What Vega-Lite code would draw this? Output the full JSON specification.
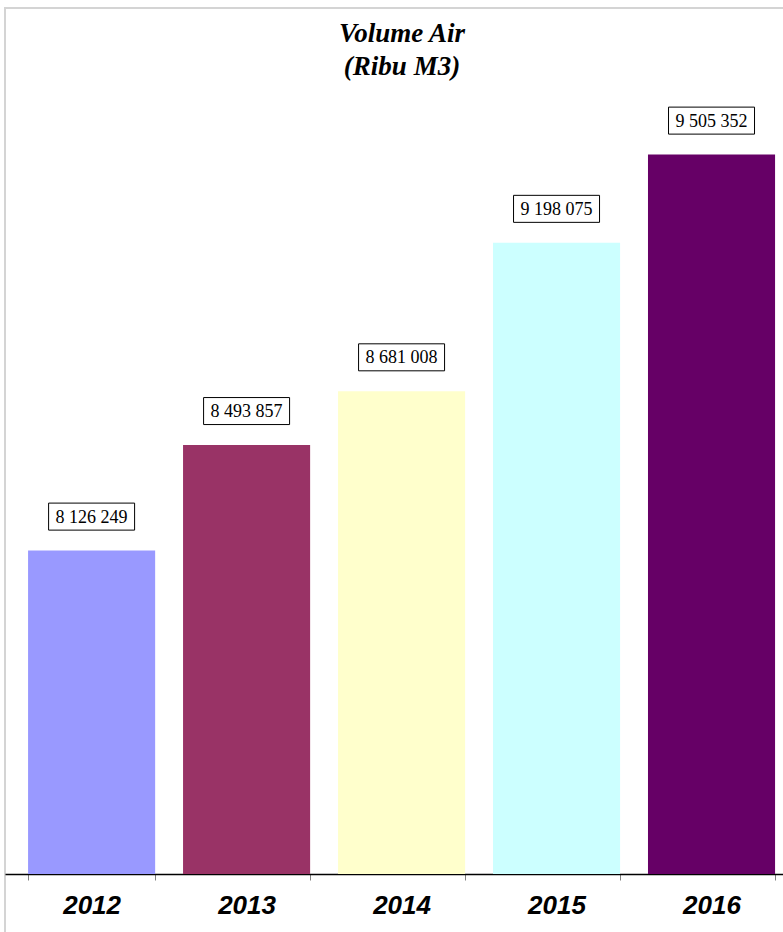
{
  "$schema": "https://vega.github.io/schema/vega-lite/v6.json",
  "autosize": "none",
  "padding": {"left": 5, "top": 8, "right": 0, "bottom": 0},
  "width": 778,
  "height": 924,
  "background": "white",
  "config": {
    "view": {"stroke": "#d4d4d4", "strokeWidth": 2, "strokeDash": [778, 1702, 924]},
    "locale": {"number": {"decimal": ",", "thousands": " ", "grouping": [3], "currency": ["", ""]}},
    "title": {"font": "Liberation Serif", "fontSize": 27, "fontWeight": "bold", "fontStyle": "italic", "color": "black", "lineHeight": 33}
  },
  "title": {"text": ["Volume Air", "(Ribu M3)"], "anchor": "middle", "offset": -73, "dx": 8},
  "data": {"values": [
    {"year": "2012", "value": 8126249},
    {"year": "2013", "value": 8493857},
    {"year": "2014", "value": 8681008},
    {"year": "2015", "value": 9198075},
    {"year": "2016", "value": 9505352}
  ]},
  "encoding": {
    "x": {"field": "year", "type": "nominal", "sort": null,
      "scale": {"paddingInner": 0.18, "paddingOuter": 0.1, "align": 0.744},
      "axis": {"title": null, "labelAngle": 0, "offset": -58, "tickBand": "extent",
        "domainColor": "black", "domainWidth": 1.5, "tickColor": "#808080", "tickSize": 6,
        "labelFont": "Liberation Sans", "labelFontSize": 26, "labelFontWeight": "bold", "labelFontStyle": "italic",
        "labelColor": "black", "labelPadding": 12}},
    "y": {"field": "value", "type": "quantitative", "scale": {"domain": [6798008, 10015950], "nice": false, "zero": false}, "axis": null}
  },
  "layer": [
    {
      "mark": {"type": "bar", "clip": false},
      "encoding": {
        "y2": {"datum": 7000000},
        "color": {"field": "year", "type": "nominal", "legend": null,
          "scale": {"domain": ["2012", "2013", "2014", "2015", "2016"], "range": ["#9999FF", "#993366", "#FFFFCC", "#CCFFFF", "#660066"]}}
      }
    },
    {
      "mark": {"type": "point", "shape": "M-1,-0.314H1V0.314H-1Z", "size": 7396, "filled": true, "fill": "white", "stroke": "black", "strokeWidth": 1, "opacity": 1, "yOffset": -34}
    },
    {
      "mark": {"type": "text", "font": "Liberation Serif", "fontSize": 18, "color": "black", "align": "center", "baseline": "middle", "yOffset": -33},
      "encoding": {"text": {"field": "value", "type": "quantitative", "format": ",d"}}
    }
  ]
}
